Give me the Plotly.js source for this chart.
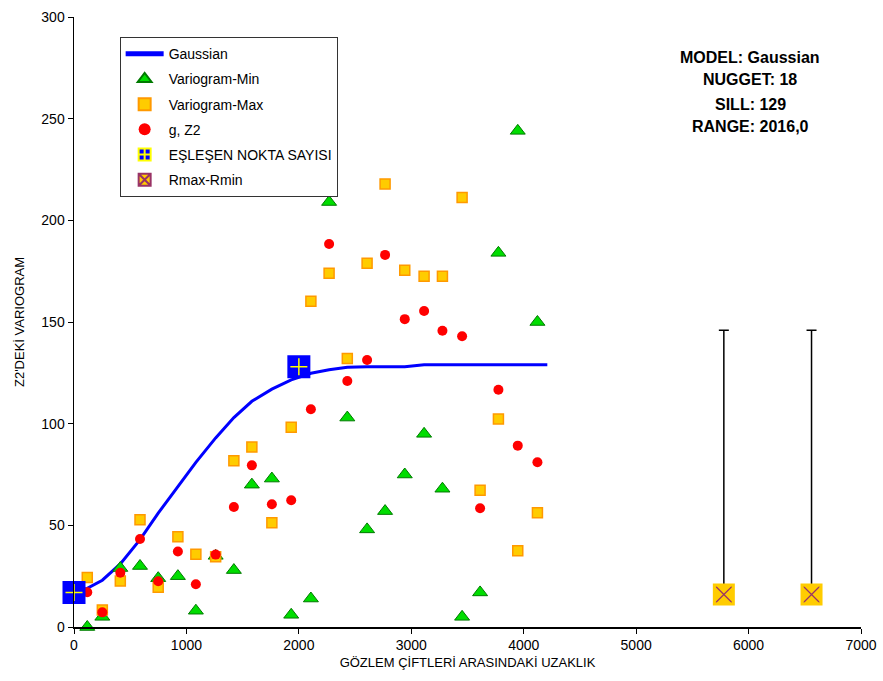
<!DOCTYPE html>
<html>
<head>
<meta charset="utf-8">
<script src="https://cdn.plot.ly/plotly-3.0.1.min.js"></script>
<style>html,body{margin:0;padding:0;background:#fff;}#chart{width:883px;height:681px;}</style>
</head>
<body>
<div id="chart"></div>
<script>
// Gaussian model curve
const gaussX = [0, 118, 252, 412, 587, 749, 924, 1084, 1260, 1422, 1582, 1760, 1932, 2107, 2269, 2431, 2607, 2767, 2942, 3114, 3277, 3452, 3612, 3775, 3947, 4122, 4210];
const gaussY = [18, 19, 23, 31, 43, 56, 69, 81, 93, 103, 111, 117, 121.5, 124.8, 126.5, 127.7, 128, 128, 128, 129, 129, 129, 129, 129, 129, 129, 129];

// Lag distances
const lags = [118, 252, 412, 587, 749, 924, 1084, 1260, 1422, 1582, 1760, 1932, 2107, 2269, 2431, 2607, 2767, 2942, 3114, 3277, 3452, 3612, 3775, 3947, 4122];
const minVals = [0, 5, 29, 30, 24, 25, 8, 35, 28, 70, 73, 6, 14, 209, 103, 48, 57, 75, 95, 68, 5, 17, 184, 244, 150];
const maxVals = [24.4, 8.4, 22.6, 52.8, 19.5, 44.4, 35.8, 34.6, 81.8, 88.5, 51.3, 98.2, 160.2, 174.0, 132.0, 178.9, 217.9, 175.5, 172.5, 172.5, 211.2, 67.2, 102.3, 37.5, 56.2];
const gVals = [17.1, 7.2, 26.7, 43.3, 22.5, 37.1, 21.0, 35.6, 59.0, 79.5, 60.4, 62.3, 107.1, 188.4, 121.0, 131.3, 183.0, 151.4, 155.4, 145.7, 143.0, 58.4, 116.7, 89.2, 81.0];

// Matching points (nugget / sill-range markers)
const pairX = [0, 2000];
const pairY = [17, 128];

// Rmax-Rmin
const rangeX = [5780, 6560];
const rangeY = [16, 16];
const rangeUp = [130, 130];

// Model text
const modelLines = ["MODEL: Gaussian", "NUGGET: 18", "SILL: 129", "RANGE: 2016,0"];

const FONT = "Liberation Sans, Arial, sans-serif";

const traces = [
  {x: gaussX, y: gaussY, type: 'scatter', mode: 'lines', name: 'Gaussian',
   legendgroup: 'g1', line: {color: '#0000FF', width: 3}, cliponaxis: false},
  {x: lags, y: minVals, type: 'scatter', mode: 'markers', name: 'Variogram-Min',
   legendgroup: 'g2', cliponaxis: false,
   marker: {symbol: 'triangle-up', size: 13, color: '#00DD00', line: {color: '#007A00', width: 1}}},
  {x: lags, y: maxVals, type: 'scatter', mode: 'markers', name: 'Variogram-Max',
   legendgroup: 'g3', cliponaxis: false,
   marker: {symbol: 'square', size: 10, color: '#FFCC00', line: {color: '#FF9900', width: 1.5}}},
  {x: lags, y: gVals, type: 'scatter', mode: 'markers', name: 'g, Z2',
   legendgroup: 'g4', cliponaxis: false,
   marker: {symbol: 'circle', size: 10, color: '#FF0000', line: {width: 0}}},
  {x: pairX, y: pairY, type: 'scatter', mode: 'markers', name: 'EŞLEŞEN NOKTA SAYISI',
   legendgroup: 'g5', cliponaxis: false,
   marker: {symbol: 'square-cross', size: 20, color: '#0000FF', line: {color: '#FFFF00', width: 1.5}}},
  {x: pairX, y: pairY, type: 'scatter', mode: 'markers', showlegend: false, hoverinfo: 'skip',
   legendgroup: 'g5', cliponaxis: false,
   marker: {symbol: 'square-open', size: 20, color: '#0000FF', line: {color: '#0000FF', width: 3}}},
  {x: rangeX, y: rangeY, type: 'scatter', mode: 'markers', name: 'Rmax-Rmin',
   legendgroup: 'g6', cliponaxis: false,
   error_y: {type: 'data', symmetric: false, array: rangeUp, arrayminus: [0, 0], color: '#000000', thickness: 1.5, width: 5},
   marker: {symbol: 'square-x', size: 19, color: '#FFCC00', line: {color: '#993366', width: 1.2}}},
  {x: rangeX, y: rangeY, type: 'scatter', mode: 'markers', showlegend: false, hoverinfo: 'skip',
   legendgroup: 'g6', cliponaxis: false,
   marker: {symbol: 'square-open', size: 19, color: '#FFCC00', line: {color: '#FFCC00', width: 3}}}
];

const annY = [0.934, 0.897, 0.857, 0.820];
const annotations = modelLines.map((t, i) => ({
  text: '<b>' + t + '</b>', xref: 'paper', yref: 'paper', x: 0.859, y: annY[i],
  xanchor: 'center', yanchor: 'middle', showarrow: false,
  font: {family: FONT, size: 16, color: '#000000'}
}));

const layout = {
  width: 883, height: 681,
  margin: {l: 74, r: 22, t: 17, b: 54},
  paper_bgcolor: '#FFFFFF', plot_bgcolor: '#FFFFFF',
  font: {family: FONT, color: '#000000'},
  showlegend: true,
  legend: {
    x: 0.058, y: 0.967, xanchor: 'left', yanchor: 'top',
    bgcolor: '#FFFFFF', bordercolor: '#333333', borderwidth: 1,
    font: {family: FONT, size: 14, color: '#000000'},
    traceorder: 'grouped', tracegroupgap: 4, itemsizing: 'constant', itemwidth: 38
  },
  xaxis: {
    range: [0, 7000], dtick: 1000, tick0: 0, showgrid: false, zeroline: false,
    showline: true, linecolor: '#000000', linewidth: 1.5,
    ticks: 'outside', ticklen: 5, tickcolor: '#000000', tickwidth: 1,
    tickfont: {family: FONT, size: 14, color: '#000000'},
    title: {text: 'GÖZLEM ÇİFTLERİ ARASINDAKİ UZAKLIK', font: {family: FONT, size: 13, color: '#000000'}, standoff: 5}
  },
  yaxis: {
    range: [0, 300], dtick: 50, tick0: 0, showgrid: false, zeroline: false,
    showline: true, linecolor: '#000000', linewidth: 1.5,
    ticks: 'outside', ticklen: 5, tickcolor: '#000000', tickwidth: 1,
    tickfont: {family: FONT, size: 14, color: '#000000'},
    title: {text: "Z2'DEKİ VARIOGRAM", font: {family: FONT, size: 13, color: '#000000'}, standoff: 14}
  },
  annotations: annotations
};

Plotly.newPlot('chart', traces, layout, {displayModeBar: false, staticPlot: true});
</script>
</body>
</html>
